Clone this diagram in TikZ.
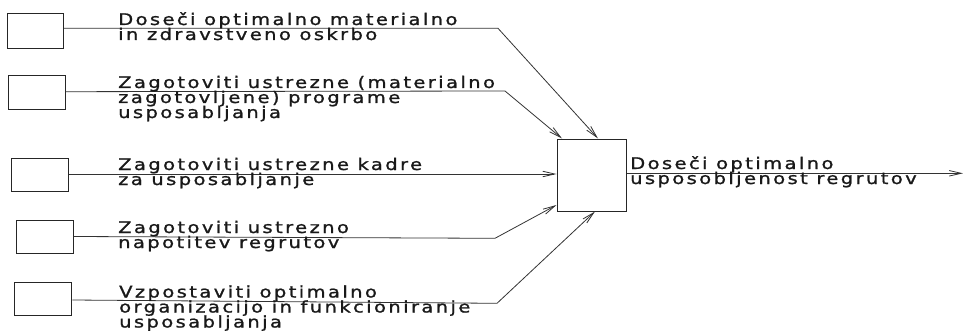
\documentclass[tikz,border=0pt]{standalone}
\usepackage{fontspec}
\setmainfont{DejaVu Sans}[LetterSpace=15,FakeBold=1.2,FakeStretch=1.22]
\usetikzlibrary{arrows.meta}
\tikzset{
  srcbox/.style={draw=black!85, line width=1pt, inner sep=0pt},
  conn/.style={draw=black!80, line width=0.8pt},
  arr/.style={conn, -{Straight Barb[length=12pt,width=5.5pt,line width=0.8pt]}},
  lbl/.style={anchor=base west, inner sep=0pt, font=\fontsize{16}{15}\selectfont, text=black!90}
}
\newcommand{\tlines}[1]{\vtop{\baselineskip=15pt\lineskiplimit=-10pt #1}}
\begin{document}
\begin{tikzpicture}[x=1pt,y=-1pt]
\useasboundingbox (0,0) rectangle (963,334);
% source boxes
\node[srcbox, minimum width=56pt, minimum height=35pt] (b1) at (35.3,30.8) {};
\node[srcbox, minimum width=57pt, minimum height=34pt] (b2) at (36.6,93) {};
\node[srcbox, minimum width=57pt, minimum height=33pt] (b3) at (40,175) {};
\node[srcbox, minimum width=57pt, minimum height=33pt] (b4) at (44.6,236.6) {};
\node[srcbox, minimum width=57pt, minimum height=33pt] (b5) at (43.3,299.2) {};
% target box
\node[srcbox, minimum width=69pt, minimum height=72pt] (t) at (591.5,175) {};
% bends and end
\coordinate (k1) at (498,28.3);
\coordinate (k2) at (505,91);
\coordinate (k4) at (495,238.3);
\coordinate (k5) at (497,303.3);
\coordinate (out) at (963,173.3);
% connectors
\draw[arr] (b1.east |- 0,28.3) -- (k1) -- (t.north -| 598,0);
\draw[arr] (b2.east |- 0,91.7) -- (k2) -- (t.north -| 562,0);
\draw[arr] (b3.east |- 0,174) -- (t.west |- 0,174);
\draw[arr] (b4.east |- 0,236.5) -- (k4) -- (t.west |- 0,205);
\draw[arr] (b5.east |- 0,300) -- (k5) -- (t.south -| 595,0);
\draw[arr] (t.east |- 0,173.3) -- (out);
% labels
\node[lbl] (l1) at (118,25) {\tlines{\hbox{Doseči optimalno materialno}\hbox{in zdravstveno oskrbo}}};
\node[lbl] (l2) at (118,88) {\tlines{\hbox{Zagotoviti ustrezne (materialno}\hbox{zagotovljene) programe}\hbox{usposabljanja}}};
\node[lbl] (l3) at (118,170) {\tlines{\hbox{Zagotoviti ustrezne kadre}\hbox{za usposabljanje}}};
\node[lbl] (l4) at (118,233) {\tlines{\hbox{Zagotoviti ustrezno}\hbox{napotitev regrutov}}};
\node[lbl] (l5) at (119,297.5) {\tlines{\hbox{Vzpostaviti optimalno}\hbox{organizacijo in funkcioniranje}\hbox{usposabljanja}}};
\node[lbl] (lt) at (630,169) {\tlines{\hbox{Doseči optimalno}\hbox{usposobljenost regrutov}}};
\end{tikzpicture}
\end{document}
